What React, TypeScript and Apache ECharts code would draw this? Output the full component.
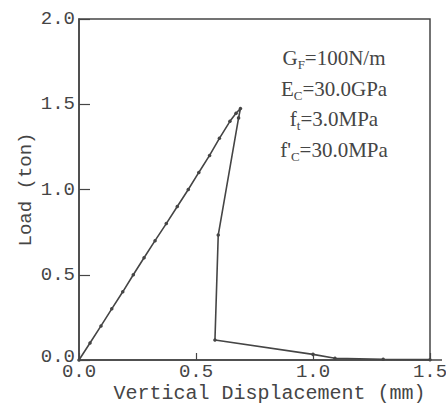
import React, { useEffect, useRef } from "react";
import * as echarts from "echarts";

// Load–displacement curve
const dispMm = [
  0, 0.047, 0.094, 0.14, 0.187, 0.232, 0.278, 0.325, 0.373, 0.42, 0.467, 0.512, 0.558, 0.6, 0.645,
  0.671, 0.69, 0.682, 0.595, 0.581, 1.0, 1.094, 1.3, 1.5,
];
const loadTon = [
  0, 0.1, 0.2, 0.3, 0.4, 0.5, 0.6, 0.7, 0.8, 0.9, 1.0, 1.1, 1.2, 1.3, 1.4,
  1.447, 1.475, 1.42, 0.733, 0.117, 0.033, 0.01, 0.004, 0.002,
];
const xTicks = [0, 0.5, 1.0, 1.5];
const yTicks = [0, 0.5, 1.0, 1.5, 2.0];
const paramLines = [
  ["G", "F", "=100N/m"],
  ["E", "C", "=30.0GPa"],
  ["f", "t", "=3.0MPa"],
  ["f'", "C", "=30.0MPa"],
];

const INK = "#454545";
const MONO = "'Liberation Mono', 'Courier New', monospace";
const SERIF = "'Liberation Serif', 'Times New Roman', serif";

export default function App() {
  const ref = useRef<HTMLDivElement>(null);
  useEffect(() => {
    if (!ref.current) return;
    const chart = echarts.init(ref.current, undefined, { renderer: "svg" });
    const data = dispMm.map((x, i) => [x, loadTon[i]]);
    const rich = {
      m: { fontSize: 21, fontFamily: SERIF, fill: INK, lineHeight: 26 },
      s: { fontSize: 13, fontFamily: SERIF, fill: INK, lineHeight: 12, verticalAlign: "bottom" },
    };
    chart.setOption({
      animation: false,
      backgroundColor: "#ffffff",
      grid: {
        left: 79,
        right: 16,
        top: 19,
        bottom: 48,
        containLabel: false,
        outerBoundsMode: "none",
        show: true,
        borderColor: INK,
        borderWidth: 1.5,
      },
      xAxis: {
        type: "value",
        min: xTicks[0],
        max: xTicks[xTicks.length - 1],
        interval: 0.5,
        name: "Vertical Displacement (mm)",
        nameLocation: "middle",
        nameGap: 23,
        nameMoveOverlap: false,
        nameTextStyle: {
          fontFamily: MONO,
          fontSize: 20,
          lineHeight: 20,
          color: INK,
          padding: [0, 0, 0, 30],
        },
        axisLine: { show: true, lineStyle: { color: INK, width: 1.5 } },
        axisTick: { show: true, inside: true, length: 7, lineStyle: { color: INK, width: 1.2 } },
        axisLabel: {
          margin: 3,
          fontFamily: MONO,
          fontSize: 19,
          lineHeight: 18,
          color: INK,
          formatter: (v: number) => v.toFixed(1),
        },
        splitLine: { show: false },
      },
      yAxis: {
        type: "value",
        min: yTicks[0],
        max: yTicks[yTicks.length - 1],
        interval: 0.5,
        name: "Load (ton)",
        nameLocation: "middle",
        nameGap: 44,
        nameMoveOverlap: false,
        nameTextStyle: { fontFamily: MONO, fontSize: 19, lineHeight: 19, color: INK },
        axisLine: { show: true, lineStyle: { color: INK, width: 1.5 } },
        axisTick: { show: true, inside: true, length: 11, lineStyle: { color: INK, width: 1.2 } },
        axisLabel: {
          margin: 4,
          fontFamily: MONO,
          fontSize: 19,
          color: INK,
          formatter: (v: number) => (v === 0 ? "{z|0.0}" : v.toFixed(1)),
          rich: {
            z: { fontFamily: MONO, fontSize: 19, color: INK, padding: [0, 0, 6, 0] },
          },
        },
        splitLine: { show: false },
      },
      series: [
        {
          type: "line",
          data,
          symbol: "circle",
          symbolSize: 3.5,
          showSymbol: true,
          lineStyle: { color: INK, width: 1.6 },
          itemStyle: { color: INK },
          z: 3,
        },
      ],
      graphic: paramLines.map((p, i) => ({
        type: "text",
        x: 334,
        y: 58 + i * 30.5,
        style: {
          text: `{m|${p[0]}}{s|${p[1]}}{m|${p[2]}}`,
          rich,
          align: "center",
          verticalAlign: "middle",
          fill: INK,
          fontFamily: SERIF,
          fontSize: 21,
        },
      })),
    });
    const end = chart.convertToPixel({ gridIndex: 0 }, [xTicks[xTicks.length - 1], 0]) as number[];
    if (end) {
      chart.setOption({
        graphic: [
          ...paramLines.map(() => ({})),
          {
            type: "line",
            shape: { x1: end[0], y1: end[1], x2: end[0] + 12, y2: end[1] },
            style: { stroke: INK, lineWidth: 1.5 },
          },
        ],
      });
    }
    return () => chart.dispose();
  }, []);
  return <div ref={ref} style={{ width: 446, height: 408, position: "absolute", left: 0, top: 0 }} />;
}
